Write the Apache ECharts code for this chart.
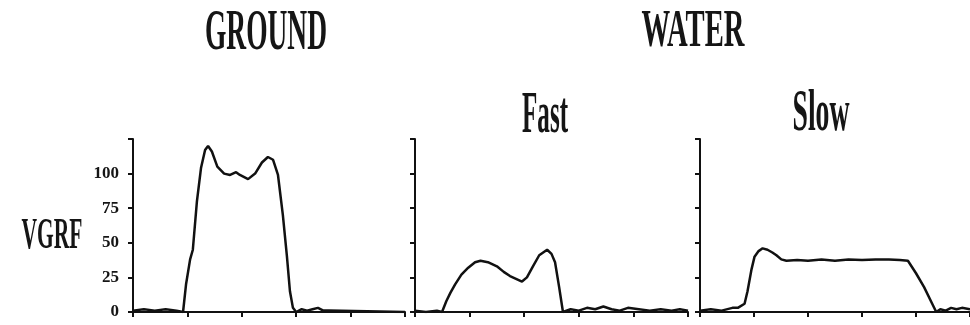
<!DOCTYPE html>
<html>
<head>
<meta charset="utf-8">
<script src="https://cdn.jsdelivr.net/npm/echarts@6/dist/echarts.min.js"></script>
<style>
html, body { margin: 0; padding: 0; background: #fff; }
#chart { width: 970px; height: 325px; }
</style>
</head>
<body>
<div id="chart"></div>
<script>
// VGRF traces, x = % of the recorded window, y = VGRF
var groundX = [0, 4, 8, 12, 16, 18.4, 19.5, 21, 22, 23.5, 25, 26.5, 27.6, 29, 31, 33.5, 35.7, 37.9, 39.3, 42.3, 44.9, 47.4, 49.6, 51.5, 53.3, 55.1, 56.6, 57.7, 58.8, 60, 62, 64, 66, 68, 70, 72, 100];
var groundY = [1, 2, 1, 2, 1, 0, 20, 38, 45, 80, 104, 117, 120, 116, 105, 100, 99, 101, 99, 96, 100, 108, 112, 110, 99, 70, 40, 15, 3, 0, 2, 1, 2, 3, 1, 1, 0];

var fastX = [0, 4, 8, 9.9, 11.5, 13, 14.7, 17, 19.5, 22, 24, 26.7, 30, 32.5, 34.8, 37, 39.2, 41, 43.2, 45.5, 48.4, 50, 51.3, 52.8, 54.2, 57, 60, 63, 66, 69, 72, 75, 78, 82, 86, 90, 94, 97, 100];
var fastY = [1, 0, 1, 0, 8, 14, 20, 27, 32, 36, 37, 36, 33, 29, 26, 24, 22, 25, 33, 41, 45, 42, 36, 18, 0, 2, 1, 3, 2, 4, 2, 1, 3, 2, 1, 2, 1, 2, 1];

var slowX = [0, 4, 8, 12, 14, 16.5, 17.6, 19.1, 20.2, 21.7, 23.2, 25, 26.8, 28.3, 30.1, 32, 36, 40, 45, 50, 55, 60, 65, 70, 74, 77, 80, 83, 86, 87.5, 89, 91, 93, 95, 97, 100];
var slowY = [1, 2, 1, 3, 3, 6, 15, 31, 40, 44, 46, 45, 43, 41, 38, 37, 37.5, 37, 38, 37, 38, 37.5, 38, 38, 37.5, 37, 28, 18, 6, 0, 2, 1, 3, 2, 3, 2];

var yTicks = [0, 25, 50, 75, 100, 125];
var xTicks = [0, 20, 40, 60, 80, 100];

function pairs(xs, ys) {
    return xs.map(function (x, i) { return [x, ys[i]]; });
}

// the scan uses a narrow serif; squeeze a normal serif to the same width
var measureCtx = document.createElement('canvas').getContext('2d');
function label(text, cx, cy, size, width) {
    var font = 'bold ' + size + 'px "Liberation Serif"';
    measureCtx.font = font;
    var w = measureCtx.measureText(text).width;
    return {
        type: 'text', x: cx, y: cy, scaleX: width / w, silent: true,
        style: {
            text: text, fill: '#151515',
            font: font,
            textAlign: 'center', textVerticalAlign: 'middle'
        }
    };
}

var grids = [
    { left: 133, top: 139, width: 272, height: 173 },
    { left: 415, top: 139, width: 273, height: 173 },
    { left: 700, top: 139, width: 272, height: 173 }
];

var traces = [pairs(groundX, groundY), pairs(fastX, fastY), pairs(slowX, slowY)];

var axisLine = { lineStyle: { color: '#111', width: 2 } };

var chart = echarts.init(document.getElementById('chart'), null, { renderer: 'canvas' });
chart.setOption({
    animation: false,
    backgroundColor: '#fff',
    grid: grids,
    xAxis: grids.map(function (g, i) {
        return {
            gridIndex: i, type: 'value', min: xTicks[0], max: xTicks[xTicks.length - 1], interval: 20,
            axisLine: axisLine,
            axisTick: { show: true, inside: false, length: 5, lineStyle: { color: '#111', width: 2 } },
            axisLabel: { show: false },
            splitLine: { show: false }
        };
    }),
    yAxis: grids.map(function (g, i) {
        return {
            gridIndex: i, type: 'value', min: yTicks[0], max: yTicks[yTicks.length - 1], interval: 25,
            axisLine: { show: true, lineStyle: { color: '#111', width: 2 } },
            axisTick: { show: true, inside: false, length: 5, lineStyle: { color: '#111', width: 2 } },
            axisLabel: {
                show: i === 0, margin: 14, color: '#151515',
                fontFamily: 'Liberation Serif', fontWeight: 'bold', fontSize: 17,
                formatter: function (v) { return v === 125 ? '' : String(v); }
            },
            splitLine: { show: false }
        };
    }),
    series: traces.map(function (d, i) {
        return {
            type: 'line', xAxisIndex: i, yAxisIndex: i, data: d,
            showSymbol: false, smooth: false,
            lineStyle: { color: '#111', width: 2.5 }
        };
    }),
    graphic: [
        label('GROUND', 266, 35, 56, 122),
        label('WATER', 693, 33, 52, 103),
        label('Fast', 545, 116, 60, 46),
        label('Slow', 821, 114, 60, 57),
        label('VGRF', 52, 237, 44, 61)
    ]
});
</script>
</body>
</html>
